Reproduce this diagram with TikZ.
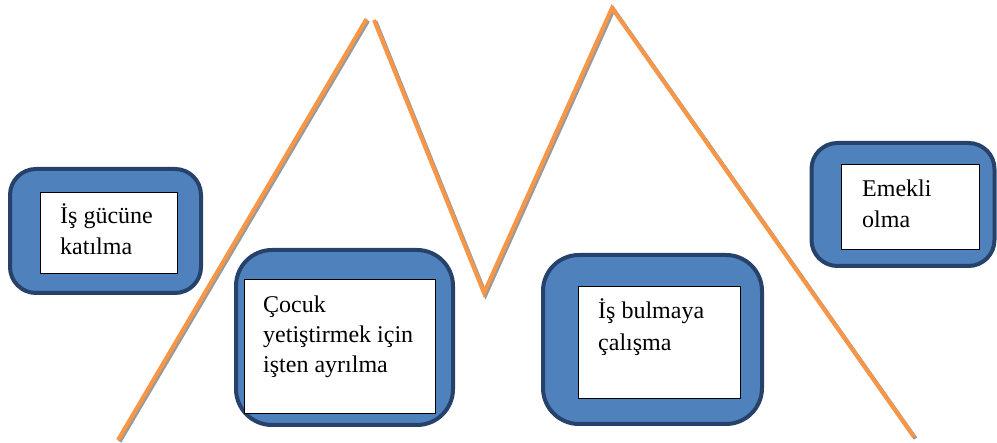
\documentclass[tikz,border=0pt]{standalone}
\usepackage{fontspec}
\setmainfont{Liberation Serif}
\definecolor{boxfill}{HTML}{4F81BD}
\definecolor{boxedge}{HTML}{26416A}
\definecolor{orangeline}{HTML}{F79646}
\definecolor{shadowline}{HTML}{9A9A9A}
\begin{document}
\begin{tikzpicture}[x=1pt,y=-1pt,
  outerbox/.style={draw=boxedge,fill=boxfill,line width=4pt,rounded corners=#1,inner sep=0pt},
  innerbox/.style={draw=black,fill=white,line width=0.9pt,inner sep=0pt},
  label/.style={anchor=base west,align=left,inner sep=0pt,font=\fontsize{24}{31}\selectfont},
  pathline/.style={draw=orangeline,line width=4pt},
  shadow/.style={draw=shadowline,line width=4pt}]
\useasboundingbox (0,0) rectangle (997,443);
% path coordinates
\coordinate (a0) at (118,440);
\coordinate (a1) at (366.5,19);
\coordinate (b0) at (374,20);
\coordinate (b1) at (484,293);
\coordinate (c1) at (612,8);
\coordinate (d1) at (914,437);
% shadows
\draw[shadow] ([shift={(1.6,1.6)}]a0) -- ([shift={(1.6,1.6)}]a1);
\draw[shadow] ([shift={(1.6,1.6)}]b0) -- ([shift={(1.6,1.6)}]b1) -- ([shift={(1.6,1.6)}]c1) -- ([shift={(1.6,1.6)}]d1);
% orange lines
\draw[pathline] (a0) -- (a1);
\draw[pathline] (b0) -- (b1) -- (c1) -- (d1);
% box 1
\node[outerbox=26pt,minimum width=191pt,minimum height=124pt] (o1) at (105.5,231) {};
\node[innerbox,minimum width=137pt,minimum height=81pt] (i1) at (108.5,232.5) {};
\node[label] (t1) at (60,255) {İş gücüne\\katılma};
% box 2
\node[outerbox=36pt,minimum width=217pt,minimum height=175pt] (o2) at (344.5,337.5) {};
\node[innerbox,minimum width=191pt,minimum height=134pt] (i2) at (339.5,346) {};
\node[label,font=\fontsize{24}{30}\selectfont] (t2) at (263,373) {Çocuk\\yetiştirmek için\\işten ayrılma};
% box 3
\node[outerbox=36pt,minimum width=219pt,minimum height=169pt] (o3) at (652.5,339.5) {};
\node[innerbox,minimum width=162pt,minimum height=112pt] (i3) at (659,342) {};
\node[label,font=\fontsize{24}{32}\selectfont] (t3) at (598,351) {İş bulmaya\\çalışma};
% box 4
\node[outerbox=26pt,minimum width=183pt,minimum height=123pt] (o4) at (903,204.5) {};
\node[innerbox,minimum width=138pt,minimum height=85pt] (i4) at (910,206.5) {};
\node[label] (t4) at (862,228) {Emekli\\olma};
\end{tikzpicture}
\end{document}
